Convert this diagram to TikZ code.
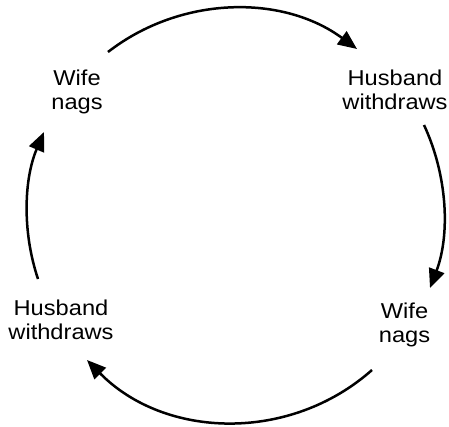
\documentclass[tikz,border=0pt]{standalone}
\usepackage{fontspec}
\setmainfont{Liberation Sans}
\usetikzlibrary{arrows.meta,calc}
% slightly widened lettering
\newcommand{\wline}[1]{\scalebox{1.1}[1]{#1}}
\tikzset{
  cyclabel/.style={align=center, anchor=base, inner sep=0pt,
    font=\fontsize{21.5}{24}\selectfont},
  cycarrow/.style={line width=2.5pt, -{Triangle[length=19pt,width=16pt]}},
}
\begin{document}
\begin{tikzpicture}[x=1pt,y=1pt]
\useasboundingbox (0,0) rectangle (449,-427);

% the four stages of the cycle (anchored on the baseline of the lower line)
\node[cyclabel] (wn1) at (77,-110)    {\wline{Wife}\\\wline{nags}};
\node[cyclabel] (hw1) at (395,-110)   {\wline{Husband}\\\wline{withdraws}};
\node[cyclabel] (wn2) at (404.5,-342) {\wline{Wife}\\\wline{nags}};
\node[cyclabel] (hw2) at (61,-339)    {\wline{Husband}\\\wline{withdraws}};

% clockwise arcs joining the stages
\draw[cycarrow] ($(wn1.base)+(31,58)$)     to[bend left=37.1, looseness=0.947]  ($(hw1.base)+(-38,61)$);
\draw[cycarrow] ($(hw1.base)+(29,-15)$)    to[bend left=22.85, looseness=0.886] ($(wn2.base)+(25.5,54)$);
\draw[cycarrow] ($(wn2.base)+(-32.5,-28)$) to[bend left=43.55, looseness=0.988] ($(hw2.base)+(26,-21)$);
\draw[cycarrow] ($(hw2.base)+(-23,60)$)    to[bend left=20.85, looseness=0.880] ($(wn1.base)+(-33,-22)$);
\end{tikzpicture}
\end{document}
